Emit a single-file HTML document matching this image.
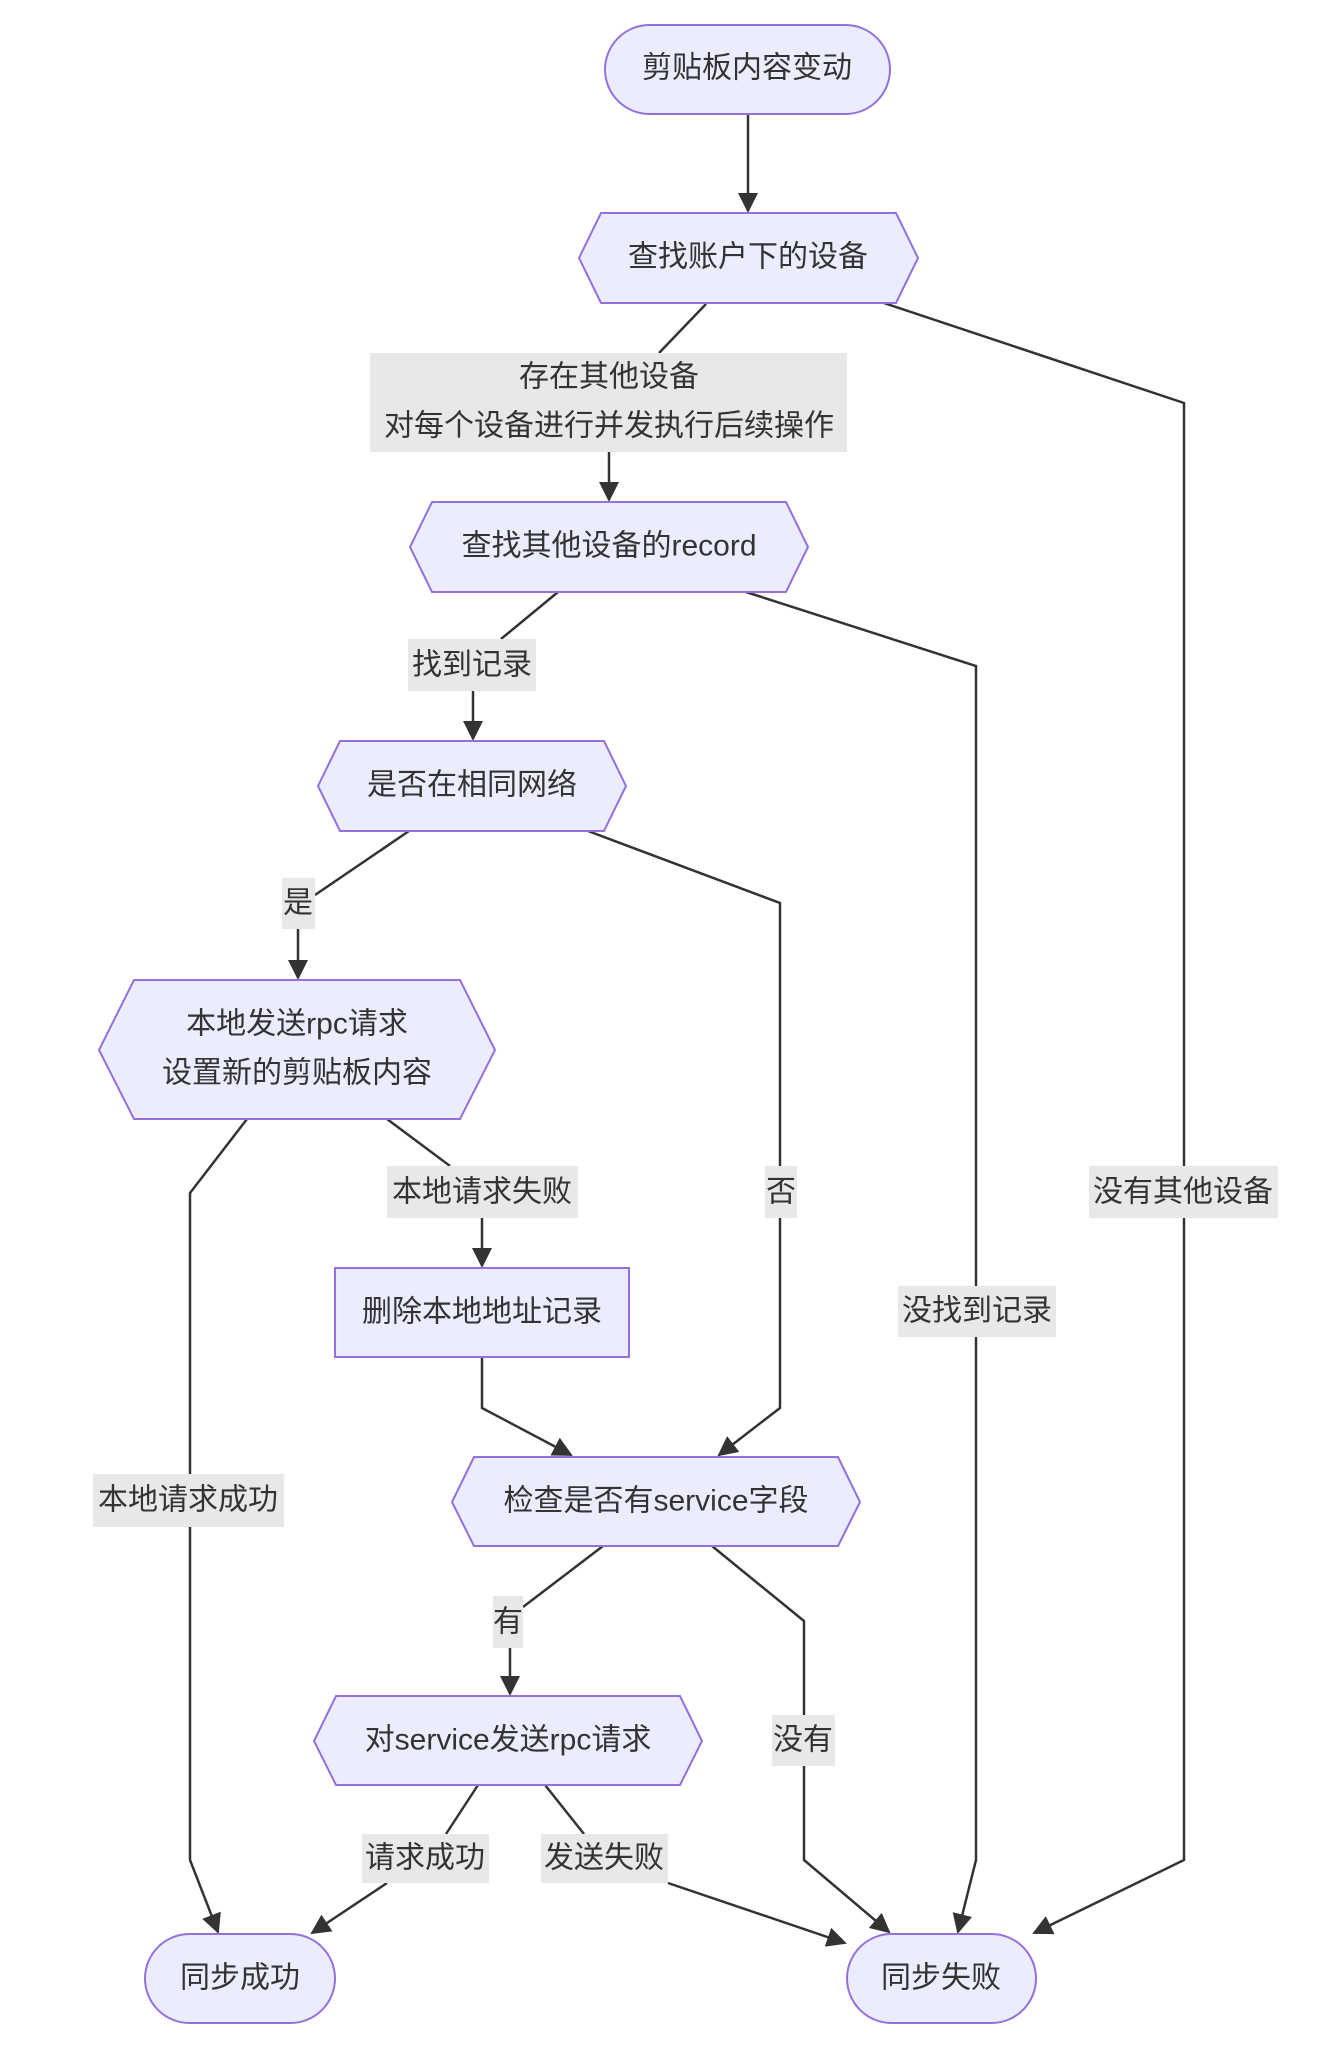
<!DOCTYPE html>
<html><head><meta charset="utf-8"><style>
html,body{margin:0;padding:0;background:#fff;}
svg text{font-family:"Liberation Sans","Noto Sans CJK SC",sans-serif;font-size:30px;fill:#333;text-anchor:middle;dominant-baseline:central;}
</style></head><body>
<svg width="1338" height="2060" viewBox="0 0 1338 2060" xmlns="http://www.w3.org/2000/svg">
<defs><marker id="a" viewBox="0 0 10 10" refX="9" refY="5" markerWidth="8" markerHeight="8" markerUnits="userSpaceOnUse" orient="auto"><path d="M0,0L10,5L0,10z" fill="#333"/></marker>
<marker id="b" viewBox="0 0 10 10" refX="9" refY="5" markerWidth="20" markerHeight="20" markerUnits="userSpaceOnUse" orient="auto"><path d="M0,0L10,5L0,10z" fill="#333"/></marker></defs>
<g fill="none" stroke="#333" stroke-width="2.5">
<path d="M748,114 L748,211" marker-end="url(#b)"/>
<path d="M706,304 L659,353"/><path d="M609,452 L609,500" marker-end="url(#b)"/>
<path d="M884,303 L1184,403 L1184,1860 L1034,1933" marker-end="url(#b)"/>
<path d="M558,592 L501,639"/><path d="M473,691 L473,739" marker-end="url(#b)"/>
<path d="M746,592 L976,666 L976,1860 L958,1932" marker-end="url(#b)"/>
<path d="M409,831 L315,895"/><path d="M298,929 L298,978" marker-end="url(#b)"/>
<path d="M588,831 L780,903 L780,1408 L719,1455" marker-end="url(#b)"/>
<path d="M387,1119 L450,1166"/><path d="M482,1218 L482,1266" marker-end="url(#b)"/>
<path d="M247,1119 L190,1193 L190,1860 L218,1932" marker-end="url(#b)"/>
<path d="M482,1357 L482,1408 L571,1455" marker-end="url(#b)"/>
<path d="M603,1546 L523,1607"/><path d="M510,1648 L510,1694" marker-end="url(#b)"/>
<path d="M712,1546 L804,1621 L804,1860 L889,1932" marker-end="url(#b)"/>
<path d="M478,1785 L446,1834"/><path d="M387,1883 L312,1933" marker-end="url(#b)"/>
<path d="M545,1785 L584,1834"/><path d="M668,1883 L845,1943" marker-end="url(#b)"/>
</g>
<g fill="#ECECFF" stroke="#9370DB" stroke-width="2">
<rect x="605" y="25" width="285" height="89" rx="44.5"/>
<polygon points="601,213 896,213 918,258 896,303 601,303 579,258"/>
<polygon points="432,502 786,502 808,547 786,592 432,592 410,547"/>
<polygon points="340,741 604,741 626,786 604,831 340,831 318,786"/>
<polygon points="134,980 460,980 495,1050 460,1119 134,1119 99,1050"/>
<rect x="335" y="1268" width="294" height="89"/>
<polygon points="474,1457 838,1457 860,1502 838,1546 474,1546 452,1502"/>
<polygon points="336,1696 680,1696 702,1741 680,1785 336,1785 314,1741"/>
<rect x="145" y="1934" width="190" height="89" rx="44.5"/>
<rect x="847" y="1934" width="189" height="89" rx="44.5"/>
</g>
<g fill="#e8e8e8">
<rect x="370" y="353" width="477" height="99"/>
<rect x="408" y="639" width="128" height="52"/>
<rect x="282" y="878" width="33" height="51"/>
<rect x="387" y="1166" width="191" height="52"/>
<rect x="765" y="1166" width="32" height="52"/>
<rect x="898" y="1286" width="158" height="51"/>
<rect x="1089" y="1166" width="189" height="52"/>
<rect x="93" y="1474" width="191" height="53"/>
<rect x="493" y="1596" width="30" height="52"/>
<rect x="772" y="1715" width="63" height="51"/>
<rect x="362" y="1834" width="127" height="49"/>
<rect x="541" y="1834" width="127" height="49"/>
</g>
<text x="747" y="68">剪贴板内容变动</text>
<text x="748" y="257">查找账户下的设备</text>
<text x="609" y="377">存在其他设备</text>
<text x="609" y="426">对每个设备进行并发执行后续操作</text>
<text x="609" y="546">查找其他设备的record</text>
<text x="472" y="665">找到记录</text>
<text x="472" y="785">是否在相同网络</text>
<text x="298" y="903">是</text>
<text x="297" y="1024">本地发送rpc请求</text>
<text x="297" y="1073">设置新的剪贴板内容</text>
<text x="482" y="1192">本地请求失败</text>
<text x="781" y="1192">否</text>
<text x="1183" y="1192">没有其他设备</text>
<text x="482" y="1312">删除本地地址记录</text>
<text x="977" y="1311">没找到记录</text>
<text x="188" y="1500">本地请求成功</text>
<text x="656" y="1501">检查是否有service字段</text>
<text x="508" y="1622">有</text>
<text x="508" y="1740">对service发送rpc请求</text>
<text x="803" y="1740">没有</text>
<text x="425" y="1858">请求成功</text>
<text x="604" y="1858">发送失败</text>
<text x="240" y="1978">同步成功</text>
<text x="941" y="1978">同步失败</text>
</svg>
</body></html>
